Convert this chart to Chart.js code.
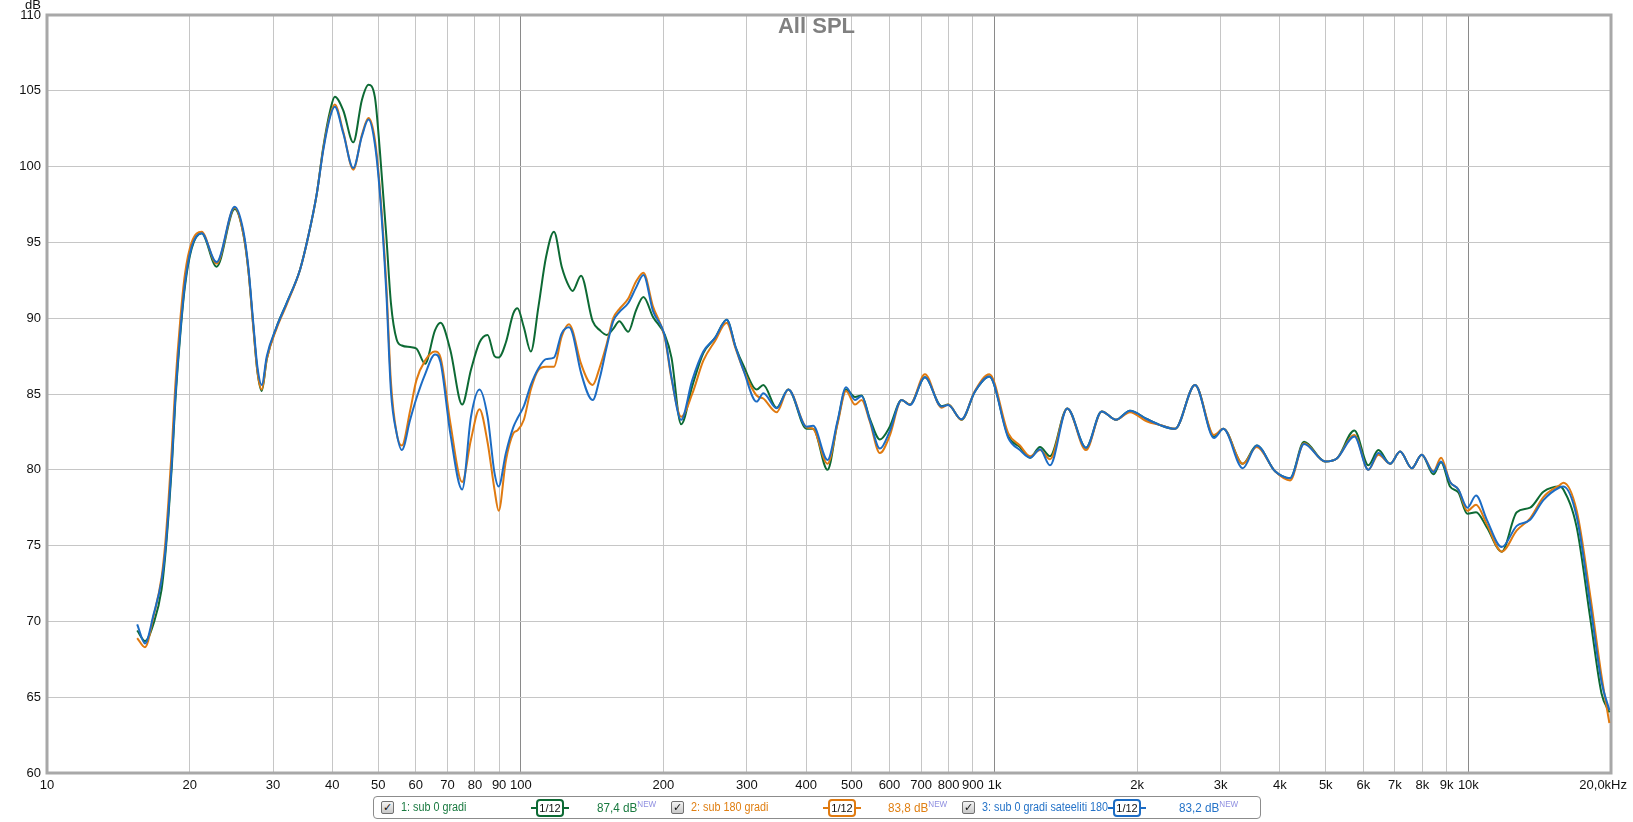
<!DOCTYPE html>
<html>
<head>
<meta charset="utf-8">
<script src="https://cdn.jsdelivr.net/npm/chart.js@4.4.1/dist/chart.umd.min.js"></script>
<style>
  html, body { margin: 0; padding: 0; background: #fff; }
  #wrap { position: relative; width: 1633px; height: 822px; }
  #legend {
    position: absolute; left: 373px; top: 796px; width: 886px; height: 21px;
    border: 1px solid #8c8c8c; border-radius: 4px; background: #fff;
    font: 12px "Liberation Sans", Arial, sans-serif;
  }
  .it {
    position: absolute; top: 0; height: 21px; line-height: 21px; white-space: nowrap;
    transform: scaleX(0.9); transform-origin: 0 50%;
  }
  .lvl { font-size: 13px; }
  .chk {
    position: absolute; top: 4px; width: 11px; height: 11px; border: 1px solid #707070;
    background: linear-gradient(#f4f4f4, #c8c8c8); border-radius: 2px;
    font: bold 11px "DejaVu Sans", sans-serif; line-height: 11px; text-align: center; color: #111;
  }
  .badge {
    position: absolute; top: 2px; width: 24px; height: 14px; border: 2px solid; border-radius: 4px;
    font: 11px "Liberation Sans", Arial, sans-serif; line-height: 14px; text-align: center; color: #111;
  }
  .badge::before, .badge::after {
    content: ""; position: absolute; top: 6px; width: 5px; height: 2px; background: currentColor;
  }
  .badge::before { left: -7px; }
  .badge::after { right: -7px; }
  .badge span { color: #111; }
  .new { font-size: 9px; color: #8f8fe0; position: relative; top: -5px; }
</style>
</head>
<body>
<div id="wrap">
  <canvas id="spl"></canvas>
  <div id="legend"></div>
</div>
<script>
// frequenze (Hz) e livelli (dB), smoothing 1/12 ott.
const freqHz = [15.5, 16.1, 16.8, 17.45, 17.75, 18.05, 18.35, 18.65, 19.1, 19.55,
  20.2, 21.2, 22.8, 24.9, 25.95, 26.6, 27.25, 27.8, 28.4, 29.1,
  30.5, 32.05, 34.2, 35.6, 37.1, 38.3, 39.6, 40.5, 42.2, 44.3,
  46.2, 47.7, 49.2, 50.4, 52.0, 53.2, 54.7, 56.1, 58.4, 60.2,
  62.8, 65.9, 67.7, 71.0, 75.2, 78.5, 81.8, 85.1, 88.0, 89.8,
  93.0, 96.4, 98.4, 101.5, 105, 109, 113, 117.5, 122, 126.4,
  128.6, 134, 141.8, 146.9, 151.8, 156.7, 161.4, 168.6, 175, 181.5,
  190, 201.4, 208, 218, 230, 242.8, 257, 272, 284, 294.9,
  314.6, 325, 346.7, 367, 401, 414, 444, 466, 485.8, 507.5,
  524, 545, 572.8, 600, 636.5, 662.6, 712.9, 772.7, 798, 851.5,
  908.6, 975, 1069, 1131, 1188, 1247, 1309, 1424, 1559, 1683,
  1804, 1931, 2094, 2235, 2404, 2649, 2905, 3040, 3341, 3575,
  3909, 4205, 4500, 4984, 5276, 5747, 6151, 6458, 6836, 7176,
  7594, 7973, 8437, 8757, 9149, 9526, 9951, 10380, 10940, 11760,
  12650, 13500, 14400, 15600, 15870, 16930, 18100, 19100, 19840];

// 1: sub 0 gradi
const sub0Gradi = [69.4, 68.7, 69.9, 72.1, 74.2, 77.0, 80.3, 84.4, 88.8, 92.1,
  94.6, 95.6, 93.4, 97.2, 95.6, 93.2, 89.5, 86.5, 85.2, 87.3,
  89.4, 91.0, 93.2, 95.4, 98.2, 101.3, 103.7, 104.6, 103.7, 101.6,
  104.4, 105.4, 104.6, 101.1, 95.5, 91.0, 88.6, 88.2, 88.1, 88.0,
  87.0, 89.2, 89.7, 87.9, 84.3, 86.6, 88.4, 88.9, 87.5, 87.4,
  88.4, 90.3, 90.65, 89.4, 87.8, 90.8, 94.0, 95.7, 93.4, 92.1,
  91.8, 92.8, 89.8, 89.2, 88.9, 89.3, 89.8, 89.1, 90.5, 91.4,
  90.1, 88.9, 87.4, 83.0, 85.5, 87.7, 88.7, 89.9, 88.1, 86.9,
  85.3, 85.6, 84.1, 85.3, 82.7, 82.7, 80.0, 83.1, 85.3, 84.8,
  84.9, 83.4, 82.0, 82.8, 84.6, 84.3, 86.1, 84.2, 84.3, 83.3,
  85.15, 86.15, 82.2, 81.5, 80.8, 81.5, 80.9, 84.05, 81.45, 83.85,
  83.3, 83.9, 83.35, 82.95, 82.7, 85.6, 82.2, 82.7, 80.4, 81.6,
  79.9, 79.45, 81.85, 80.55, 80.75, 82.6, 80.3, 81.3, 80.4, 81.2,
  80.1, 81.0, 79.7, 80.5, 78.9, 78.5, 77.1, 77.2, 76.2, 74.6,
  77.2, 77.5, 78.55, 78.9, 78.7, 76.2, 70.1, 65.25, 64.0];

// 2: sub 180 gradi
const sub180Gradi = [68.9, 68.3, 70.4, 72.9, 75.0, 78.0, 81.5, 85.5, 89.8, 92.9,
  95.0, 95.7, 93.6, 97.3, 95.6, 93.2, 89.4, 86.5, 85.3, 87.3,
  89.3, 90.9, 93.2, 95.4, 98.2, 101.2, 103.4, 104.1, 102.3, 99.8,
  102.1, 103.2, 101.8, 98.6, 92.3, 85.8, 82.4, 81.6, 83.9, 85.9,
  87.2, 87.8, 87.4, 83.1, 79.2, 82.0, 84.0, 81.8, 78.7, 77.3,
  80.6, 82.4, 82.6, 83.3, 85.3, 86.6, 86.8, 86.8, 88.8, 89.6,
  89.2, 87.0, 85.6, 86.8, 88.3, 90.0, 90.6, 91.3, 92.4, 93.0,
  90.8, 88.7, 86.0, 83.5, 85.0, 87.2, 88.5, 89.7, 88.0, 86.6,
  84.9, 84.7, 83.8, 85.3, 82.8, 82.7, 80.4, 83.0, 85.2, 84.3,
  84.6, 83.2, 81.1, 82.2, 84.6, 84.3, 86.3, 84.1, 84.3, 83.3,
  85.2, 86.3, 82.4, 81.6, 80.9, 81.3, 80.7, 84.05, 81.3, 83.85,
  83.3, 83.8, 83.2, 82.95, 82.7, 85.6, 82.3, 82.7, 80.4, 81.5,
  79.9, 79.3, 81.75, 80.55, 80.75, 82.3, 80.0, 81.0, 80.4, 81.2,
  80.1, 81.0, 79.9, 80.8, 79.2, 78.7, 77.3, 77.7, 76.4, 74.6,
  76.0, 76.8, 78.2, 79.0, 79.15, 77.3, 71.6, 66.4, 63.3];

// 3: sub 0 gradi sateeliti 180
const sub0Sat180 = [69.8, 68.55, 70.5, 72.7, 74.5, 77.3, 80.6, 84.7, 89.0, 92.3,
  94.7, 95.6, 93.7, 97.35, 95.8, 93.4, 89.7, 86.8, 85.6, 87.5,
  89.4, 91.0, 93.2, 95.4, 98.2, 101.1, 103.3, 103.95, 102.2, 99.9,
  102.0, 103.1, 101.5, 98.3, 91.8, 85.2, 82.4, 81.3, 83.3, 84.7,
  86.3, 87.6, 87.1, 82.4, 78.7, 83.5, 85.3, 83.5, 79.8, 78.9,
  81.1, 82.8, 83.4, 84.2, 85.6, 86.7, 87.3, 87.4, 89.0, 89.4,
  89.0, 86.4, 84.6, 86.1, 88.1, 89.8, 90.4, 91.0, 92.0, 92.85,
  90.5, 88.8, 86.1, 83.3, 85.9, 87.8, 88.7, 89.9, 88.1, 86.6,
  84.5, 85.05, 84.06, 85.3, 82.84, 82.9, 80.65, 83.2, 85.44, 84.6,
  84.87, 83.3, 81.4, 82.5, 84.6, 84.27, 86.1, 84.17, 84.27, 83.33,
  85.15, 86.15, 82.1, 81.3, 80.8, 81.35, 80.3, 84.05, 81.45, 83.85,
  83.3, 83.9, 83.35, 82.95, 82.7, 85.6, 82.1, 82.7, 80.1, 81.6,
  79.9, 79.45, 81.7, 80.55, 80.75, 82.2, 80.0, 81.1, 80.4, 81.2,
  80.1, 81.0, 79.85, 80.55, 79.2, 78.7, 77.5, 78.3, 76.7, 74.9,
  76.3, 76.7, 78.0, 78.85, 78.9, 76.9, 71.0, 66.0, 64.15];

const xTickValues = [10, 20, 30, 40, 50, 60, 70, 80, 90, 100, 200, 300, 400, 500, 600, 700, 800, 900,
  1000, 2000, 3000, 4000, 5000, 6000, 7000, 8000, 9000, 10000, 20000];
const xTickLabels = ['10', '20', '30', '40', '50', '60', '70', '80', '90', '100', '200', '300', '400', '500',
  '600', '700', '800', '900', '1k', '2k', '3k', '4k', '5k', '6k', '7k', '8k', '9k', '10k', '20,0kHz'];
const decades = [10, 100, 1000, 10000];

const seriesNames = ['1: sub 0 gradi', '2: sub 180 gradi', '3: sub 0 gradi sateeliti 180'];
const seriesLevels = ['87,4 dB', '83,8 dB', '83,2 dB'];
const seriesData = [sub0Gradi, sub180Gradi, sub0Sat180];
const lineColors = ['#0d6a34', '#e07a10', '#1c6cc4'];
const textColors = ['#1a7a40', '#e07f12', '#2573c8'];

const FONT = "'Liberation Sans', Arial, sans-serif";
const lastTick = xTickValues[xTickValues.length - 1];

// cornice grigia, titolo, unità e ultima etichetta (allineata a destra come in REW)
const decor = {
  id: 'decor',
  beforeDatasetsDraw(chart) {
    const { ctx, chartArea: a } = chart;
    ctx.save();
    ctx.strokeStyle = '#a8a8a8';
    ctx.lineWidth = 3;
    ctx.strokeRect(a.left, a.top, a.right - a.left, a.bottom - a.top);
    ctx.restore();
  },
  afterDraw(chart) {
    const { ctx, chartArea: a } = chart;
    ctx.save();
    ctx.fillStyle = '#808080';
    ctx.font = 'bold 22px ' + FONT;
    ctx.textAlign = 'center';
    ctx.textBaseline = 'alphabetic';
    ctx.fillText('All SPL', a.left + (a.right - a.left) * 0.492, a.top + 18);
    ctx.fillStyle = '#111';
    ctx.font = '13px ' + FONT;
    ctx.textAlign = 'right';
    ctx.fillText('dB', a.left - 6, 9);
    ctx.textBaseline = 'middle';
    ctx.fillText(xTickLabels[xTickLabels.length - 1], a.right + 16, a.bottom + 12);
    ctx.restore();
  }
};

new Chart(document.getElementById('spl'), {
  type: 'line',
  data: {
    datasets: seriesData.map((vals, i) => ({
      label: seriesNames[i],
      data: freqHz.map((f, j) => ({ x: f, y: vals[j] })),
      borderColor: lineColors[i],
      borderWidth: 2,
      pointRadius: 0,
      cubicInterpolationMode: 'monotone',
      order: 2 - i
    }))
  },
  options: {
    responsive: true,
    maintainAspectRatio: false,
    animation: false,
    layout: { padding: { top: 15, right: 22, left: 0, bottom: 0 } },
    plugins: { legend: { display: false }, tooltip: { enabled: false } },
    scales: {
      x: {
        type: 'logarithmic',
        min: 10,
        max: lastTick,
        afterBuildTicks: s => { s.ticks = xTickValues.map(v => ({ value: v })); },
        afterFit: s => { s.height = 49; s.paddingLeft = 0; s.paddingRight = 0; },
        grid: {
          color: c => decades.includes(c.tick && c.tick.value) ? '#8a8a8a' : '#c6c6c6',
          drawTicks: false
        },
        border: { display: false },
        ticks: {
          autoSkip: false,
          maxRotation: 0,
          padding: 5,
          color: '#111',
          font: { size: 13, family: FONT },
          callback: v => v === lastTick ? '' : xTickLabels[xTickValues.indexOf(v)]
        }
      },
      y: {
        min: 60,
        max: 110,
        afterFit: s => { s.width = 47; s.paddingTop = 0; s.paddingBottom = 0; },
        grid: { color: '#c6c6c6', drawTicks: false },
        border: { display: false },
        ticks: {
          stepSize: 5,
          padding: 6,
          color: '#111',
          font: { size: 13, family: FONT }
        }
      }
    }
  },
  plugins: [decor]
});

// legenda in stile REW
const legendSlots = [
  { chk: 7, name: 27, badge: 162, level: 223 },
  { chk: 297, name: 317, badge: 454, level: 514 },
  { chk: 588, name: 608, badge: 739, level: 805 }
];
const legend = document.getElementById('legend');
seriesNames.forEach((name, i) => {
  const p = legendSlots[i];
  legend.insertAdjacentHTML('beforeend',
    `<span class="chk" style="left:${p.chk}px">✓</span>` +
    `<span class="it" style="left:${p.name}px;color:${textColors[i]}">${name}</span>` +
    `<span class="badge" style="left:${p.badge}px;border-color:${lineColors[i]};color:${lineColors[i]}"><span>1/12</span></span>` +
    `<span class="it lvl" style="left:${p.level}px;color:${textColors[i]}">${seriesLevels[i]}<span class="new">NEW</span></span>`);
});
</script>
</body>
</html>
